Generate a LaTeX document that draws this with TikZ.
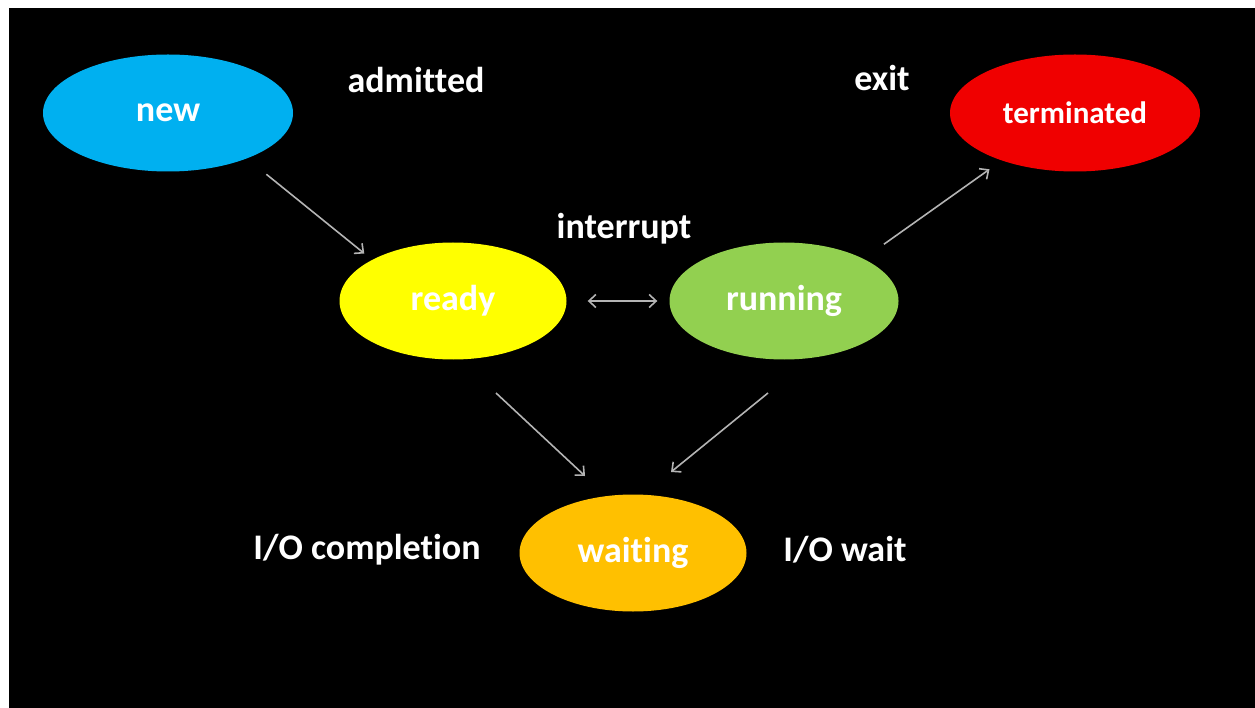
\documentclass[tikz,border=0pt]{standalone}
\usepackage{fontspec}
\setmainfont[Ligatures=CommonOff]{Carlito}
\usetikzlibrary{arrows.meta,shapes.geometric}
\definecolor{newblue}{HTML}{00B0F0}
\definecolor{termred}{HTML}{F00000}
\definecolor{readyyellow}{HTML}{FFFF00}
\definecolor{rungreen}{HTML}{92D050}
\definecolor{waitorange}{HTML}{FFC000}
\definecolor{arrowgray}{HTML}{B4B4B4}
\begin{document}
\begin{tikzpicture}[x=1pt,y=-1pt,
  state/.style={ellipse,fill=#1,minimum width=227pt,minimum height=117pt,inner sep=0pt,text=white,font=\fontsize{36}{40}\selectfont\bfseries},
  lbl/.style={text=white,inner sep=0pt,font=\fontsize{36}{40}\selectfont\bfseries},
  arr/.style={line width=1.6pt,draw=arrowgray,-{Straight Barb[length=7pt,width=13pt]}},
  dblarr/.style={line width=1.6pt,draw=arrowgray,{Straight Barb[length=7pt,width=13pt]}-{Straight Barb[length=7pt,width=13pt]}}]
\fill[white] (0,0) rectangle (1255,708);
\fill[black] (9,8) rectangle (1255,708);
% states
\node[state=newblue,minimum width=250pt] (new) at (168,113) {new};
\node[state=termred,minimum width=250pt,font=\fontsize{31}{36}\selectfont\bfseries] (term) at (1075,113) {terminated};
\node[state=readyyellow] (ready) at (453,301) {ready};
\node[state=rungreen,minimum width=229pt] (run) at (784,301) {running};
\node[state=waitorange] (wait) at (633,553) {waiting};
% transition labels
\node[lbl] (admit) at (416,80) {admitted};
\node[lbl] (exit) at (882,78) {exit};
\node[lbl] (intr) at (624,229) {interrupt};
\node[lbl] (iocomp) at (367,550) {I/O completion};
\node[lbl] (iowait) at (845,550) {I/O wait};
% transitions
\draw[arr,shorten <=25pt,shorten >=10pt] (new.-30) -- (ready.153);
\draw[dblarr,shorten <=21pt,shorten >=12pt] (ready) -- (run);
\draw[arr,shorten <=25pt,shorten >=15pt] (run.28) -- (term.-147);
\draw[arr] ([shift={(43,92)}]ready.center) -- ([shift={(-48,-77)}]wait.center);
\draw[arr] ([shift={(-16,92)}]run.center) -- ([shift={(38,-81)}]wait.center);
\end{tikzpicture}
\end{document}
